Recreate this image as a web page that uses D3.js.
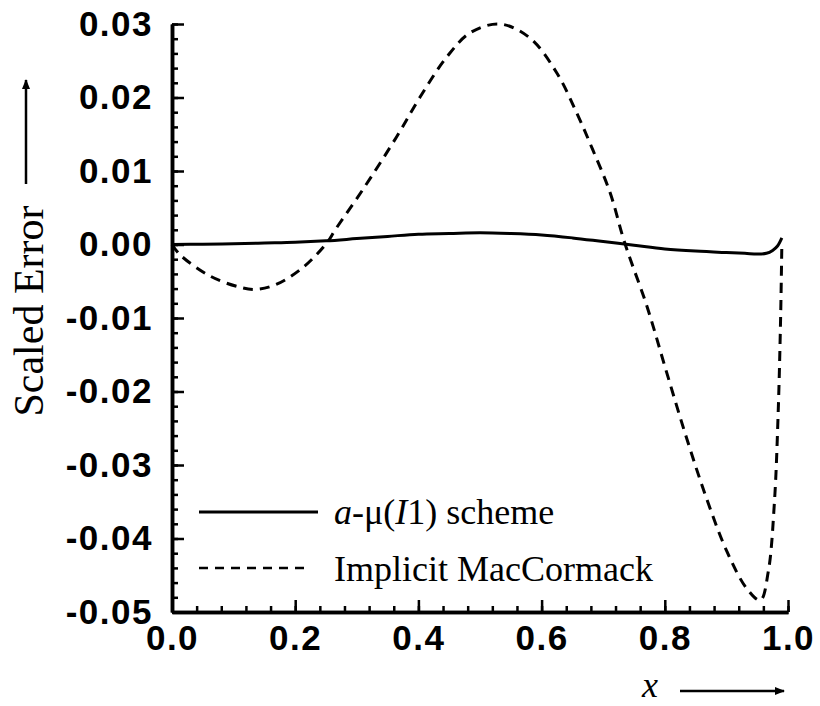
<!DOCTYPE html>
<html><head><meta charset="utf-8">
<script src="https://cdn.jsdelivr.net/npm/d3@7/dist/d3.min.js"></script>
<style>body{margin:0;background:#fff}</style>
</head><body>
<svg id="c" width="820" height="706"></svg>
<script>
// Data
const schemeX = [0, 0.05, 0.1, 0.15, 0.2, 0.25, 0.3, 0.35, 0.4, 0.45, 0.5, 0.55, 0.6, 0.65, 0.7, 0.75, 0.8, 0.85, 0.9, 0.93, 0.95, 0.965, 0.975, 0.983, 0.99];
const schemeY = [0, 0.00005, 0.0001, 0.0002, 0.0003, 0.0005, 0.0008, 0.0011, 0.0014, 0.0015, 0.0016, 0.0015, 0.0013, 0.0009, 0.0004, -0.0001, -0.0006, -0.0009, -0.0011, -0.0012, -0.0013, -0.0012, -0.0008, -0.0002, 0.0009];
const macX = [0, 0.013, 0.062, 0.11, 0.138, 0.17, 0.213, 0.252, 0.265, 0.31, 0.365, 0.403, 0.446, 0.484, 0.532, 0.581, 0.625, 0.657, 0.683, 0.711, 0.735, 0.771, 0.803, 0.836, 0.868, 0.901, 0.933, 0.955, 0.968, 0.978, 0.984, 0.988, 0.99];
const macY = [0, -0.0014, -0.0043, -0.0058, -0.0061, -0.0054, -0.0031, 0.0003, 0.0020, 0.0075, 0.0147, 0.0201, 0.0255, 0.0288, 0.0300, 0.0281, 0.0233, 0.0179, 0.0129, 0.0071, 0.0002, -0.0084, -0.0174, -0.0265, -0.0346, -0.0418, -0.0468, -0.0484, -0.0445, -0.0350, -0.0230, -0.0100, 0.0];
const xTicks = [0, 0.2, 0.4, 0.6, 0.8, 1.0];
const xTickLabels = ["0.0", "0.2", "0.4", "0.6", "0.8", "1.0"];
const yTicks = [0.03, 0.02, 0.01, 0, -0.01, -0.02, -0.03, -0.04, -0.05];
const yTickLabels = ["0.03", "0.02", "0.01", "0.00", "-0.01", "-0.02", "-0.03", "-0.04", "-0.05"];
const legendLabels = ["a-\u03bc(I1) scheme", "Implicit MacCormack"];

const svg = d3.select("#c");
const x = d3.scaleLinear().domain([0, 1]).range([172, 788]);
const y = d3.scaleLinear().domain([-0.05, 0.03]).range([612, 24]);

const sans = "'Liberation Sans', Arial, Helvetica, sans-serif";
const serif = "'Liberation Serif', 'Times New Roman', Times, serif";

function styleAxis(g) {
  g.selectAll("path.domain").attr("stroke", "#000").attr("stroke-width", 3.5);
  g.selectAll(".tick line").attr("stroke", "#000").attr("stroke-width", 2.5);
  g.selectAll(".tick text").attr("fill", "#000").style("font-family", sans)
    .style("font-weight", "bold").style("font-size", "35px").style("letter-spacing", "1.5px");
}

// minor ticks
const xMinor = d3.range(0, 1.0001, 0.04);
const yMinor = d3.range(-0.05, 0.03001, 0.002);
svg.append("g").attr("transform", `translate(0,${y(-0.05)})`)
  .call(d3.axisBottom(x).tickValues(xMinor).tickSize(-6).tickSizeOuter(0).tickFormat(""))
  .call(styleAxis);
svg.append("g").attr("transform", `translate(${x(0)},0)`)
  .call(d3.axisLeft(y).tickValues(yMinor).tickSize(-6).tickSizeOuter(0).tickFormat(""))
  .call(styleAxis);

// major ticks
svg.append("g").attr("transform", `translate(0,${y(-0.05)})`)
  .call(d3.axisBottom(x).tickValues(xTicks).tickSize(-12).tickSizeOuter(0).tickPadding(13)
    .tickFormat((d, i) => xTickLabels[i]))
  .call(styleAxis);
svg.append("g").attr("transform", `translate(${x(0)},0)`)
  .call(d3.axisLeft(y).tickValues(yTicks).tickSize(-12).tickSizeOuter(0).tickPadding(19)
    .tickFormat((d, i) => yTickLabels[i]))
  .call(styleAxis);

// curves
const line = d3.line().x(d => x(d[0])).y(d => y(d[1])).curve(d3.curveCatmullRom.alpha(0.5));
svg.append("path").datum(schemeX.map((v, i) => [v, schemeY[i]]))
  .attr("d", line).attr("fill", "none").attr("stroke", "#000").attr("stroke-width", 3);
svg.append("path").datum(macX.map((v, i) => [v, macY[i]]))
  .attr("d", line).attr("fill", "none").attr("stroke", "#000").attr("stroke-width", 3)
  .attr("stroke-dasharray", "10,7");

// legend
const lg = svg.append("g");
lg.append("line").attr("x1", 199).attr("x2", 318).attr("y1", 512).attr("y2", 512)
  .attr("stroke", "#000").attr("stroke-width", 3);
lg.append("line").attr("x1", 199).attr("x2", 306).attr("y1", 568).attr("y2", 568)
  .attr("stroke", "#000").attr("stroke-width", 2.5).attr("stroke-dasharray", "9,7");
const t1 = lg.append("text").attr("x", 334).attr("y", 524)
  .style("font-family", serif).style("font-size", "36px").attr("fill", "#000");
t1.append("tspan").style("font-style", "italic").text("a");
t1.append("tspan").text("-\u03bc(");
t1.append("tspan").style("font-style", "italic").text("I");
t1.append("tspan").text("1) scheme");
lg.append("text").attr("x", 334).attr("y", 581)
  .style("font-family", serif).style("font-size", "36px").attr("fill", "#000")
  .text(legendLabels[1]);

// arrow marker
const defs = svg.append("defs");
defs.append("marker").attr("id", "ah").attr("viewBox", "0 0 10 10").attr("refX", 9).attr("refY", 5)
  .attr("markerWidth", 4).attr("markerHeight", 4).attr("orient", "auto-start-reverse")
  .attr("markerUnits", "strokeWidth")
  .append("path").attr("d", "M0,1 L10,5 L0,9 Z").attr("fill", "#000");

// y title
svg.append("text").attr("transform", "translate(43,311) rotate(-90)").attr("text-anchor", "middle")
  .style("font-family", serif).style("font-size", "42px").attr("fill", "#000").text("Scaled Error");
svg.append("line").attr("x1", 26).attr("x2", 26).attr("y1", 184).attr("y2", 80)
  .attr("stroke", "#000").attr("stroke-width", 2.5).attr("marker-end", "url(#ah)");

// x title
svg.append("text").attr("x", 642).attr("y", 697)
  .style("font-family", serif).style("font-style", "italic").style("font-size", "36px").attr("fill", "#000").text("x");
svg.append("line").attr("x1", 680).attr("x2", 784).attr("y1", 691).attr("y2", 691)
  .attr("stroke", "#000").attr("stroke-width", 2.5).attr("marker-end", "url(#ah)");
</script>
</body></html>
